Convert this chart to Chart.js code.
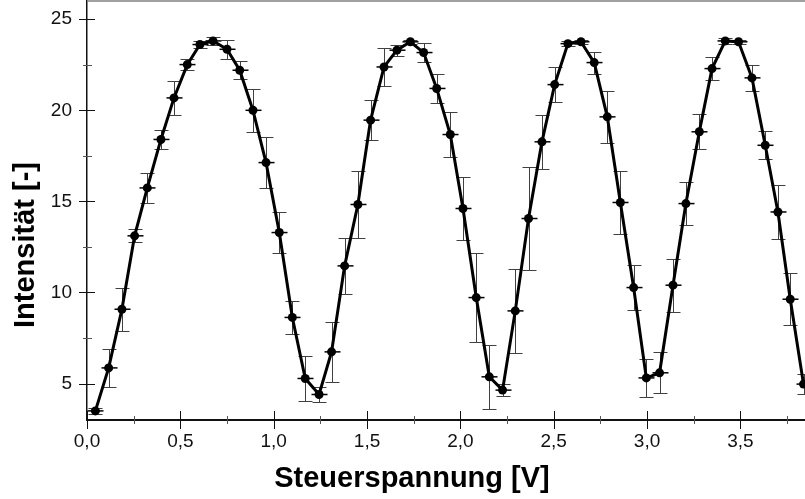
<!DOCTYPE html>
<html><head><meta charset="utf-8">
<script src="https://cdn.jsdelivr.net/npm/chart.js@4/dist/chart.umd.min.js"></script>
<style>html,body{margin:0;padding:0;background:#fff;overflow:hidden}canvas{display:block}</style>
</head><body>
<canvas id="c" width="805" height="499"></canvas>
<script>
const voltage = [0.045,0.116,0.187,0.255,0.323,0.396,0.466,0.537,0.605,0.675,
  0.750,0.818,0.889,0.959,1.030,1.100,1.169,1.243,1.310,1.380,
  1.451,1.519,1.591,1.660,1.732,1.803,1.873,1.946,2.014,2.085,
  2.155,2.226,2.294,2.365,2.437,2.505,2.576,2.646,2.717,2.787,
  2.857,2.928,2.996,3.067,3.139,3.208,3.280,3.348,3.419,3.490,
  3.562,3.633,3.701,3.767,3.838];
const intensity = [3.50,5.86,9.08,13.11,15.74,18.40,20.68,22.51,23.61,23.81,
  23.35,22.20,20.00,17.13,13.29,8.63,5.28,4.40,6.74,11.46,
  14.83,19.46,22.38,23.30,23.76,23.17,21.20,18.67,14.61,9.72,
  5.37,4.64,8.99,14.06,18.27,21.41,23.66,23.76,22.62,19.64,
  14.94,10.27,5.31,5.59,10.40,14.88,18.82,22.29,23.81,23.76,
  21.78,18.08,14.42,9.63,4.97];
const errorY = [0.16,1.05,1.17,0.36,0.81,0.50,0.93,0.30,0.18,0.20,
  0.52,0.50,1.17,1.42,1.14,0.91,1.22,0.43,1.66,1.54,
  1.86,1.10,1.05,0.31,0.10,0.52,0.80,1.23,1.74,2.46,
  1.74,0.34,2.30,2.85,1.48,0.96,0.15,0.10,0.60,1.43,
  1.75,1.23,1.03,1.12,1.45,1.16,0.95,0.64,0.15,0.12,
  0.70,0.76,1.50,1.44,0.53];
const xTicks = [0,0.5,1,1.5,2,2.5,3,3.5];
const xMinorTicks = [0.25,0.75,1.25,1.75,2.25,2.75,3.25,3.75];
const yTicks = [5,10,15,20,25];
const yMinorTicks = [7.5,12.5,17.5,22.5];
const xTitle = 'Steuerspannung [V]';
const yTitle = 'Intensität [-]';

const FONT = "'Liberation Sans', Arial, sans-serif";
const points = voltage.map((v, i) => ({x: v, y: intensity[i]}));

const errorBars = {
  id: 'errorBars',
  beforeDatasetsDraw(chart) {
    const ctx = chart.ctx, meta = chart.getDatasetMeta(0), ys = chart.scales.y;
    ctx.save();
    meta.data.forEach((pt, i) => {
      const top = Math.round(ys.getPixelForValue(intensity[i] + errorY[i])) + 0.5;
      const bot = Math.round(ys.getPixelForValue(intensity[i] - errorY[i])) + 0.5;
      const x = Math.round(pt.x) + 0.5;
      ctx.strokeStyle = '#404040'; ctx.lineWidth = 1;
      ctx.beginPath();
      ctx.moveTo(x, top); ctx.lineTo(x, bot);
      ctx.moveTo(x - 7, top); ctx.lineTo(x + 7, top);
      ctx.moveTo(x - 7, bot); ctx.lineTo(x + 7, bot);
      ctx.stroke();
      ctx.strokeStyle = '#000'; ctx.lineWidth = 1.5;
      ctx.beginPath();
      ctx.moveTo(x - 8, pt.y); ctx.lineTo(x + 8, pt.y);
      ctx.stroke();
    });
    ctx.restore();
  }
};

const axesDeco = {
  id: 'axesDeco',
  afterDraw(chart) {
    const ctx = chart.ctx, xs = chart.scales.x, ys = chart.scales.y, a = chart.chartArea;
    ctx.save();
    ctx.strokeStyle = '#808080'; ctx.lineWidth = 1.5;
    ctx.beginPath(); ctx.moveTo(a.left, a.top); ctx.lineTo(805, a.top); ctx.stroke();
    ctx.lineWidth = 1;
    ctx.strokeStyle = '#111';
    yTicks.forEach(v => {
      const y = Math.round(ys.getPixelForValue(v)) + 0.5;
      ctx.beginPath(); ctx.moveTo(a.left - 8, y); ctx.lineTo(a.left + 8, y); ctx.stroke();
    });
    ctx.strokeStyle = '#555';
    yMinorTicks.forEach(v => {
      const y = Math.round(ys.getPixelForValue(v)) + 0.5;
      ctx.beginPath(); ctx.moveTo(a.left - 4, y); ctx.lineTo(a.left + 5, y); ctx.stroke();
    });
    ctx.strokeStyle = '#111';
    xTicks.forEach(v => {
      const x = Math.round(xs.getPixelForValue(v)) + 0.5;
      ctx.beginPath(); ctx.moveTo(x, a.bottom - 9); ctx.lineTo(x, a.bottom + 9); ctx.stroke();
    });
    ctx.strokeStyle = '#555';
    xMinorTicks.forEach(v => {
      const x = Math.round(xs.getPixelForValue(v)) + 0.5;
      ctx.beginPath(); ctx.moveTo(x, a.bottom - 4); ctx.lineTo(x, a.bottom + 4); ctx.stroke();
    });
    ctx.fillStyle = '#000';
    ctx.font = 'bold 29px ' + FONT;
    ctx.textAlign = 'center'; ctx.textBaseline = 'alphabetic';
    ctx.fillText(xTitle, 412, 487);
    ctx.translate(34, 245);
    ctx.rotate(-Math.PI / 2);
    ctx.fillText(yTitle, 0, 0);
    ctx.restore();
  }
};

new Chart(document.getElementById('c'), {
  type: 'scatter',
  data: {
    datasets: [{
      data: points,
      showLine: true,
      borderColor: '#000',
      borderWidth: 3,
      backgroundColor: '#000',
      pointRadius: 4.5,
      pointBorderWidth: 0,
      pointBackgroundColor: '#000',
      tension: 0
    }]
  },
  options: {
    responsive: false,
    devicePixelRatio: 1,
    animation: false,
    layout: {autoPadding: false, padding: {top: 1, right: 0, left: 0, bottom: 0}},
    plugins: {legend: {display: false}, tooltip: {enabled: false}},
    scales: {
      x: {
        type: 'linear', min: 0, max: 3.846,
        afterFit(s) { s.height = 79; s.paddingLeft = 0; s.paddingRight = 0; },
        afterBuildTicks(s) { s.ticks = xTicks.map(v => ({value: v})); },
        grid: {display: false, drawTicks: false},
        border: {display: true, color: '#111', width: 2},
        ticks: {
          font: {family: FONT, size: 19}, color: '#111', padding: 10, maxRotation: 0,
          callback: v => v.toFixed(1).replace('.', ',')
        }
      },
      y: {
        type: 'linear', min: 3, max: 26,
        afterFit(s) { s.width = 87; s.paddingTop = 0; s.paddingBottom = 0; },
        afterBuildTicks(s) { s.ticks = yTicks.map(v => ({value: v})); },
        grid: {display: false, drawTicks: false},
        border: {display: true, color: '#111', width: 1.5},
        ticks: {
          font: {family: FONT, size: 19}, color: '#111', padding: 15,
          callback: v => String(v)
        }
      }
    }
  },
  plugins: [errorBars, axesDeco]
});
</script>
</body></html>
